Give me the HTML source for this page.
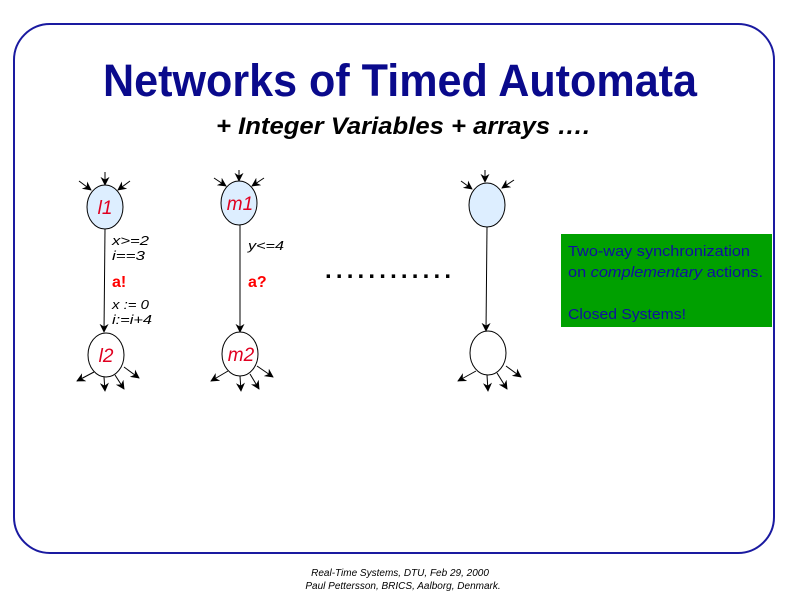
<!DOCTYPE html>
<html><head><style>html,body{margin:0;padding:0;background:#fff;}svg{display:block}</style></head>
<body>
<svg width="800" height="600" viewBox="0 0 800 600" xmlns="http://www.w3.org/2000/svg" font-family="Liberation Sans, sans-serif">
<defs>
<marker id="ah" viewBox="0 0 10 10" refX="9" refY="5" markerWidth="9" markerHeight="9" markerUnits="userSpaceOnUse" orient="auto">
<path d="M0,0 L10,5 L0,10 L3,5 z" fill="#000"/>
</marker>
</defs>
<rect x="14" y="24" width="760" height="529" rx="36" ry="36" fill="#fff" stroke="#1a1aa0" stroke-width="2"/>
<text x="400" y="96" text-anchor="middle" font-size="45" font-weight="bold" fill="#0a0a8c" textLength="594" lengthAdjust="spacingAndGlyphs">Networks of Timed Automata</text>
<text x="403" y="134" text-anchor="middle" font-size="24" font-weight="bold" font-style="italic" fill="#000" textLength="374" lengthAdjust="spacingAndGlyphs">+ Integer Variables + arrays ….</text>

<g stroke="#000" stroke-width="1">
<line x1="105" y1="172" x2="105" y2="185" marker-end="url(#ah)"/>
<line x1="79" y1="181" x2="91" y2="190" marker-end="url(#ah)"/>
<line x1="130" y1="181" x2="118" y2="190" marker-end="url(#ah)"/>
<ellipse cx="105" cy="207" rx="18" ry="22" fill="#ddeeff"/>
<line x1="105" y1="229" x2="104" y2="332" marker-end="url(#ah)"/>
<ellipse cx="106" cy="355" rx="18" ry="22" fill="#fff"/>
<line x1="94" y1="372" x2="77" y2="381" marker-end="url(#ah)"/>
<line x1="104" y1="377" x2="105" y2="391" marker-end="url(#ah)"/>
<line x1="115" y1="375" x2="124" y2="389" marker-end="url(#ah)"/>
<line x1="124" y1="367" x2="139" y2="378" marker-end="url(#ah)"/>
</g>
<text x="105" y="214" text-anchor="middle" font-size="19" font-style="italic" fill="#e00020">l1</text>
<text x="106" y="362" text-anchor="middle" font-size="19" font-style="italic" fill="#e00020">l2</text>
<g font-size="13" font-style="italic" fill="#000">
<text x="112" y="245" textLength="37" lengthAdjust="spacingAndGlyphs">x&gt;=2</text>
<text x="112" y="260" textLength="33" lengthAdjust="spacingAndGlyphs">i==3</text>
<text x="112" y="309" textLength="37" lengthAdjust="spacingAndGlyphs">x := 0</text>
<text x="112" y="324" textLength="40" lengthAdjust="spacingAndGlyphs">i:=i+4</text>
<text x="248" y="250" textLength="36" lengthAdjust="spacingAndGlyphs">y&lt;=4</text>
</g>
<text x="112" y="287" font-size="16" font-weight="bold" fill="#ff0000">a!</text>
<text x="248" y="287" font-size="16" font-weight="bold" fill="#ff0000">a?</text>

<g stroke="#000" stroke-width="1">
<line x1="239" y1="170" x2="239" y2="181" marker-end="url(#ah)"/>
<line x1="214" y1="178" x2="226" y2="186" marker-end="url(#ah)"/>
<line x1="264" y1="178" x2="252" y2="186" marker-end="url(#ah)"/>
<ellipse cx="239" cy="203" rx="18" ry="22" fill="#ddeeff"/>
<line x1="240" y1="225" x2="240" y2="332" marker-end="url(#ah)"/>
<ellipse cx="240" cy="354" rx="18" ry="22" fill="#fff"/>
<line x1="228" y1="371" x2="211" y2="381" marker-end="url(#ah)"/>
<line x1="240" y1="376" x2="241" y2="391" marker-end="url(#ah)"/>
<line x1="250" y1="374" x2="259" y2="389" marker-end="url(#ah)"/>
<line x1="257" y1="366" x2="273" y2="377" marker-end="url(#ah)"/>
</g>
<text x="240" y="210" text-anchor="middle" font-size="19" font-style="italic" fill="#e00020">m1</text>
<text x="241" y="361" text-anchor="middle" font-size="19" font-style="italic" fill="#e00020">m2</text>

<text x="325" y="278" font-size="24" font-weight="bold" fill="#000" textLength="126" lengthAdjust="spacing">............</text>

<g stroke="#000" stroke-width="1">
<line x1="485" y1="170" x2="485" y2="182" marker-end="url(#ah)"/>
<line x1="461" y1="181" x2="472" y2="189" marker-end="url(#ah)"/>
<line x1="514" y1="180" x2="502" y2="188" marker-end="url(#ah)"/>
<ellipse cx="487" cy="205" rx="18" ry="22" fill="#ddeeff"/>
<line x1="487" y1="227" x2="486" y2="331" marker-end="url(#ah)"/>
<ellipse cx="488" cy="353" rx="18" ry="22" fill="#fff"/>
<line x1="476" y1="371" x2="458" y2="381" marker-end="url(#ah)"/>
<line x1="487" y1="375" x2="488" y2="391" marker-end="url(#ah)"/>
<line x1="497" y1="373" x2="507" y2="389" marker-end="url(#ah)"/>
<line x1="506" y1="366" x2="521" y2="377" marker-end="url(#ah)"/>
</g>

<rect x="561" y="234" width="211" height="93" fill="#00a000"/>
<g font-size="15" fill="#1010a0">
<text x="568" y="256" textLength="182" lengthAdjust="spacingAndGlyphs">Two-way synchronization</text>
<text x="568" y="277" textLength="195" lengthAdjust="spacingAndGlyphs">on <tspan font-style="italic">complementary</tspan> actions.</text>
<text x="568" y="319" textLength="118" lengthAdjust="spacingAndGlyphs">Closed Systems!</text>
</g>

<g font-size="10" font-style="italic" fill="#000" text-anchor="middle">
<text x="400" y="576">Real-Time Systems, DTU, Feb 29, 2000</text>
<text x="403" y="589">Paul Pettersson, BRICS, Aalborg, Denmark.</text>
</g>
</svg>
</body></html>
